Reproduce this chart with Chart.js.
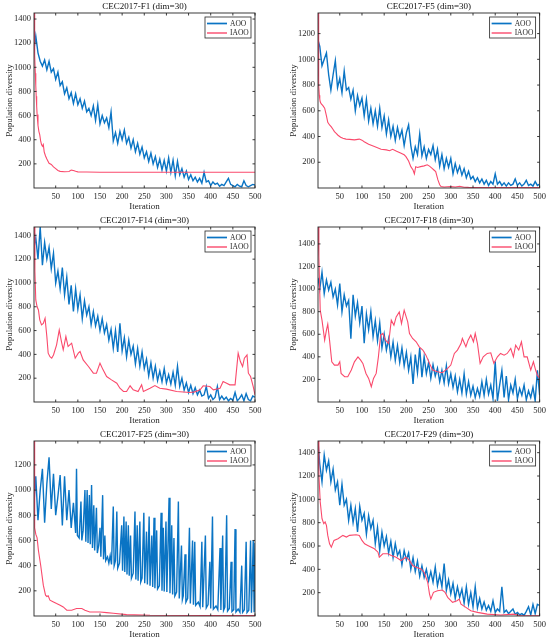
<!DOCTYPE html>
<html><head><meta charset="utf-8">
<script src="https://cdn.jsdelivr.net/npm/chart.js@4.4.1/dist/chart.umd.min.js"></script>
<style>
html,body{margin:0;padding:0;background:#fff;}
#wrap{position:relative;width:550px;height:642px;overflow:hidden;}
canvas{position:absolute;}
</style></head><body><div id="wrap"></div>
<script>
// ---------- tick labels / categories ----------
const X_TICKS = [50,100,150,200,250,300,350,400,450,500];
const Y_TICKS = [200,400,600,800,1000,1200,1400];
const SERIES_NAMES = ['AOO','IAOO'];
const TITLES = ['CEC2017-F1 (dim=30)','CEC2017-F5 (dim=30)','CEC2017-F14 (dim=30)',
                'CEC2017-F18 (dim=30)','CEC2017-F25 (dim=30)','CEC2017-F29 (dim=30)'];
// sampled iterations for most AOO curves: 1, 5, 10, ..., 500
const AOO_ITER = [1];
for (let k = 5; k <= 500; k += 5) AOO_ITER.push(k);

// ---------- AOO series (read at the iterations above) ----------
const F1_AOO = [1150,
 1260,1120,1050,1010,1060,980,1050,960,990,900,
 960,850,880,780,830,740,790,700,780,690,
 740,660,720,630,660,600,680,560,690,530,
 600,540,580,500,630,390,460,370,470,400,
 480,370,420,330,400,300,370,280,340,250,
 300,220,290,200,260,170,240,150,230,140,
 250,130,230,100,220,110,160,90,140,70,
 110,60,90,50,80,40,130,50,60,20,
 50,30,40,15,30,20,50,80,30,20,
 10,30,15,10,60,20,10,20,30,25];
const F5_AOO = [1150,
 1100,950,1000,1050,880,760,880,990,780,850,
 740,910,760,780,690,760,600,720,640,700,
 560,690,520,620,500,600,480,620,470,560,
 420,530,400,480,370,470,390,450,330,430,
 490,330,230,320,260,420,250,320,230,300,
 260,330,220,300,170,260,150,230,160,230,
 110,190,120,170,100,150,80,130,70,90,
 50,80,40,70,30,60,20,50,30,110,
 30,50,20,40,15,40,20,30,70,20,
 40,15,30,60,20,30,15,50,20,30];
const F14_AOO = [1300,
 1380,1200,1470,1150,1340,1200,1300,1120,1250,1000,
 1100,950,1130,900,1050,820,980,760,950,780,
 900,700,850,730,800,650,760,640,720,600,
 700,580,650,520,610,450,600,420,660,430,
 540,380,520,400,470,320,450,300,420,280,
 360,220,330,200,300,180,260,170,280,160,
 230,150,250,140,300,130,200,100,160,80,
 140,70,120,60,100,50,60,130,30,60,
 20,40,130,20,50,20,40,10,30,15,
 80,10,30,60,10,70,20,10,50,40];
const F18_AOO = [1100,
 1000,1150,960,1080,990,1060,930,1000,860,1050,
 800,950,850,900,560,950,760,880,700,850,
 520,780,640,800,580,720,540,700,480,600,
 460,560,400,530,370,500,350,480,320,440,
 280,400,160,420,260,480,220,400,250,350,
 210,330,230,300,180,280,170,320,160,250,
 130,230,90,200,80,250,70,180,60,140,
 40,120,50,180,60,200,70,150,30,360,
 10,150,280,40,230,20,150,80,200,30,
 120,60,150,20,100,40,130,10,280,60];
const F29_AOO = [1500,
 1300,1150,1380,1250,1330,1150,1260,1080,1150,950,
 1130,950,1000,820,950,800,920,720,940,820,
 880,700,860,750,820,620,760,560,720,600,
 680,540,640,500,620,520,560,440,560,480,
 540,400,500,380,470,340,430,330,400,300,
 380,290,420,260,350,250,450,220,310,190,
 280,150,250,160,230,110,250,100,200,80,
 250,70,150,60,120,50,90,40,130,30,
 60,40,250,30,50,20,40,60,15,30,
 10,20,5,40,80,10,100,20,100,90];
// F25 AOO is spiky: its own iterations, so each spike is one iteration wide
const F25_AOO_X = [1,5,10,15,20,25,30,35,40,45,50,55,60,65,70,75,80,85,90,95,
 97,99,103,107,109,112,116,118,121,123,126,128,131,133,136,138,142,144,147,150,
 152,156,158,161,163,167,170,173,176,180,182,185,188,190,194,199,201,204,206,209,
 211,214,216,219,221,225,229,231,234,236,240,242,245,249,251,255,257,261,263,267,
 269,272,274,278,280,284,288,290,293,295,299,301,306,308,312,314,317,319,323,327,
 329,334,336,338,342,344,348,352,354,359,361,364,366,372,376,380,382,388,390,394,
 398,400,404,406,412,416,421,423,427,429,432,436,438,442,446,448,452,455,457,462,
 466,470,472,476,480,482,486,490,492,496,498,500];
const F25_AOO = [900,1110,760,1000,1170,740,1050,1260,850,1130,800,950,1120,720,1110,760,1000,700,900,660,
 1170,640,620,910,600,680,1000,590,1000,580,960,570,1040,540,880,520,860,500,560,700,
 470,960,450,640,440,470,420,480,410,870,400,440,830,380,420,720,360,790,350,750,
 330,720,320,640,300,340,830,290,720,280,750,270,300,820,260,670,250,790,240,640,
 230,780,220,680,215,240,820,200,700,195,750,190,940,180,720,170,620,160,190,910,
 140,560,130,160,490,110,140,700,100,600,90,590,85,110,75,590,70,640,65,90,
 430,60,790,55,80,50,540,48,640,45,70,800,40,60,430,35,50,690,32,55,
 30,400,30,50,590,28,45,600,26,600,30,580];

// ---------- IAOO series (iteration, value) ----------
const F1_IAOO_X = [1,2,3,4,5,6,7,8,10,12,14,16,18,20,22,24,27,30,35,40,45,50,55,60,70,80,85,90,95,100,120,150,200,300,400,500];
const F1_IAOO_Y = [1450,1300,1100,950,850,760,680,610,520,470,440,390,360,345,360,300,265,240,205,195,175,160,145,138,135,137,148,145,138,134,132,131,130,130,130,130];
const F5_IAOO_X = [1,2,3,4,5,6,8,12,16,20,23,27,31,35,38,42,46,52,57,64,72,83,94,100,105,115,128,143,155,162,169,178,188,195,199,205,210,215,218,221,225,232,240,247,252,258,262,266,271,275,278,285,300,310,320,330,340,400,450,500];
const F5_IAOO_Y = [1360,1000,800,720,690,670,655,640,620,560,510,490,475,455,438,425,410,395,386,380,378,374,380,372,360,340,322,301,296,290,301,285,270,258,244,210,166,140,110,165,160,166,172,180,170,153,140,127,63,25,11,8,12,8,14,6,5,4,3,3];
const F14_IAOO_X = [1,3,5,8,11,14,18,22,26,30,33,37,41,45,52,58,63,67,73,78,86,94,101,105,112,124,135,142,150,157,165,176,188,195,203,210,218,225,236,244,248,263,274,285,300,323,353,364,376,383,398,406,421,428,436,443,455,462,467,472,476,482,485,490,496,500];
const F14_IAOO_Y = [1470,1100,857,800,773,690,648,661,703,550,410,380,368,395,480,605,507,438,550,466,494,368,410,424,354,298,242,242,326,270,214,186,158,116,88,88,136,102,88,144,88,116,138,116,108,88,80,85,102,136,130,102,116,172,158,144,144,410,340,298,368,396,242,214,130,60];
const F18_IAOO_X = [1,3,6,10,16,20,23,27,32,38,46,50,53,61,68,76,83,91,97,102,109,115,121,126,132,137,142,147,153,160,166,172,177,184,189,195,203,207,214,222,229,237,244,252,259,270,281,293,300,308,315,323,326,334,339,345,351,355,360,366,373,382,390,397,405,412,420,427,435,441,446,453,459,465,472,480,486,491,495,500];
const F18_IAOO_Y = [1550,1285,813,725,548,636,690,548,356,327,327,356,253,224,224,283,356,400,371,342,253,209,135,209,253,400,592,607,548,518,725,680,754,798,695,813,710,607,563,533,489,460,415,342,283,268,259,297,327,430,460,518,563,489,548,592,533,607,518,342,400,430,436,342,400,430,415,430,474,400,503,460,533,400,400,283,356,283,238,209];
const F25_IAOO_X = [1,2,3,5,8,11,16,22,27,30,33,37,45,52,60,67,75,86,97,109,116,127,150,165,180,210,263,500];
const F25_IAOO_Y = [1390,900,700,650,620,520,405,245,165,155,160,126,112,99,86,72,46,46,59,59,46,32,32,27,22,11,6,3];
const F29_IAOO_X = [1,3,6,10,14,17,20,23,27,31,37,46,57,65,72,87,94,100,106,113,128,136,139,147,158,166,177,188,199,207,214,222,233,240,248,252,255,261,270,281,287,293,304,314,319,323,334,345,360,382,412,442,457,500];
const F29_IAOO_Y = [1500,1208,978,834,791,806,777,691,619,590,648,662,691,677,691,697,691,648,619,605,576,547,504,533,533,519,504,476,504,476,432,418,404,375,289,189,145,203,217,223,203,160,117,131,145,102,74,45,31,16,8,16,2,2];

// ---------- chart building ----------
const AOO_COLOR = '#0a74c4';
const IAOO_COLOR = '#fa4a6c';
const FONT = "'Liberation Serif', 'Times New Roman', serif";
const INK = '#262626';

const PANELS = [
  {ax:AOO_ITER,  aoo:F1_AOO,  ix:F1_IAOO_X,  iy:F1_IAOO_Y},
  {ax:AOO_ITER,  aoo:F5_AOO,  ix:F5_IAOO_X,  iy:F5_IAOO_Y},
  {ax:AOO_ITER,  aoo:F14_AOO, ix:F14_IAOO_X, iy:F14_IAOO_Y},
  {ax:AOO_ITER,  aoo:F18_AOO, ix:F18_IAOO_X, iy:F18_IAOO_Y},
  {ax:F25_AOO_X, aoo:F25_AOO, ix:F25_IAOO_X, iy:F25_IAOO_Y},
  {ax:AOO_ITER,  aoo:F29_AOO, ix:F29_IAOO_X, iy:F29_IAOO_Y}
];

const decor = {
  id:'decor',
  afterDraw(chart, args, opts){
    const ctx = chart.ctx, ca = chart.chartArea;
    const xs = chart.scales.x, ys = chart.scales.y;
    ctx.save();
    ctx.strokeStyle = INK; ctx.lineWidth = 0.9;
    ctx.strokeRect(ca.left, ca.top, ca.right - ca.left, ca.bottom - ca.top);
    const tl = 2.5;
    ctx.beginPath();
    xs.ticks.forEach(t => {
      const p = xs.getPixelForValue(t.value);
      ctx.moveTo(p, ca.bottom); ctx.lineTo(p, ca.bottom - tl);
      ctx.moveTo(p, ca.top); ctx.lineTo(p, ca.top + tl);
    });
    ys.ticks.forEach(t => {
      const p = ys.getPixelForValue(t.value);
      ctx.moveTo(ca.left, p); ctx.lineTo(ca.left + tl, p);
      ctx.moveTo(ca.right, p); ctx.lineTo(ca.right - tl, p);
    });
    ctx.stroke();
    // title
    ctx.fillStyle = '#111';
    ctx.textAlign = 'center'; ctx.textBaseline = 'middle';
    ctx.font = '9px ' + FONT;
    const cx = (ca.left + ca.right) / 2;
    ctx.fillText(opts.title, cx, 6.5);
    // x label
    ctx.fillStyle = INK;
    ctx.font = '9px ' + FONT;
    ctx.fillText('Iteration', cx, 207);
    // y label
    ctx.save();
    ctx.translate(ca.left - 24.5, (ca.top + ca.bottom) / 2);
    ctx.rotate(-Math.PI / 2);
    ctx.fillText('Population diversity', 0, 0);
    ctx.restore();
    // legend
    const bw = 46, bh = 21;
    const bx = ca.right - 4 - bw, by = ca.top + 4;
    ctx.fillStyle = '#fff';
    ctx.fillRect(bx, by, bw, bh);
    ctx.strokeStyle = INK; ctx.lineWidth = 0.8;
    ctx.strokeRect(bx, by, bw, bh);
    ctx.font = '7.5px ' + FONT;
    ctx.textAlign = 'left';
    chart.data.datasets.forEach((ds, i) => {
      const yy = by + 6.5 + i * 9.5;
      ctx.strokeStyle = ds.borderColor; ctx.lineWidth = ds.borderWidth + 0.3;
      ctx.beginPath(); ctx.moveTo(bx + 2, yy); ctx.lineTo(bx + 22, yy); ctx.stroke();
      ctx.fillStyle = INK;
      ctx.fillText(ds.label, bx + 25, yy + 0.5);
    });
    ctx.restore();
  }
};

const wrap = document.getElementById('wrap');
PANELS.forEach((p, i) => {
  const col = i % 2, row = Math.floor(i / 2);
  const cv = document.createElement('canvas');
  cv.width = 275; cv.height = 214;
  cv.style.left = (col * 275) + 'px';
  cv.style.top = (row * 214) + 'px';
  cv.style.width = '275px'; cv.style.height = '214px';
  wrap.appendChild(cv);
  const leftW = col === 0 ? 34 : 43;
  const rightPad = col === 0 ? 20 : 9;
  const ymax = Math.max(...p.aoo, ...p.iy);
  const aooData = p.ax.map((x, k) => ({x: x, y: p.aoo[k]}));
  const iaooData = p.ix.map((x, k) => ({x: x, y: p.iy[k]}));
  new Chart(cv, {
    type: 'line',
    data: {
      datasets: [
        {label: SERIES_NAMES[0], data: aooData, borderColor: AOO_COLOR, borderWidth: 1.4,
         pointRadius: 0, tension: 0, fill: false, order: 1},
        {label: SERIES_NAMES[1], data: iaooData, borderColor: IAOO_COLOR, borderWidth: 1.1,
         pointRadius: 0, tension: 0, fill: false, order: 0}
      ]
    },
    options: {
      responsive: false, animation: false, devicePixelRatio: 1,
      layout: {padding: {top: 13, right: rightPad, left: 0, bottom: 0}},
      plugins: {legend: {display: false}, title: {display: false}, tooltip: {enabled: false},
                decor: {title: TITLES[i]}},
      scales: {
        x: {type: 'linear', min: 1, max: 500,
            grid: {display: false, drawTicks: false}, border: {display: false},
            afterBuildTicks: s => { s.ticks = X_TICKS.map(v => ({value: v})); },
            afterFit: s => { s.height = 26; },
            ticks: {padding: 4, color: INK, maxRotation: 0, autoSkip: false,
                    callback: v => String(v),
                    font: {family: FONT, size: 8.5}}},
        y: {type: 'linear', min: 0, max: ymax,
            grid: {display: false, drawTicks: false}, border: {display: false},
            afterBuildTicks: s => { s.ticks = Y_TICKS.filter(v => v <= ymax).map(v => ({value: v})); },
            afterFit: s => { s.width = leftW; },
            ticks: {padding: 3, color: INK, autoSkip: false,
                    callback: v => String(v),
                    font: {family: FONT, size: 8.5}}}
      }
    },
    plugins: [decor]
  });
});
</script></body></html>
